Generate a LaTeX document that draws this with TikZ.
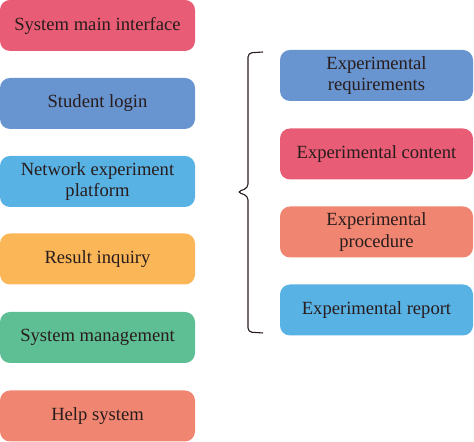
\documentclass[tikz,border=0pt]{standalone}
\usepackage{fontspec}
\setmainfont{Liberation Serif}

\definecolor{boxred}{RGB}{232,93,117}
\definecolor{boxblue}{RGB}{104,148,207}
\definecolor{boxsky}{RGB}{89,178,228}
\definecolor{boxorange}{RGB}{251,182,88}
\definecolor{boxgreen}{RGB}{94,190,148}
\definecolor{boxsalmon}{RGB}{240,134,113}
\definecolor{inktext}{RGB}{40,28,28}

\tikzset{
  menubox/.style={rectangle, rounded corners=5pt, fill=#1, draw=none,
    minimum width=97.5pt, minimum height=25.5pt, inner sep=0pt,
    align=center, text=inktext, font=\fontsize{9.3}{10.6}\selectfont},
  subbox/.style={menubox=#1, minimum width=96.5pt}
}

\begin{document}
\begin{tikzpicture}[x=0.5pt,y=0.5pt]
            \useasboundingbox (0,0) rectangle (474,442);

            % left column
            \node[menubox=boxred]    (main)   at (97.5,416.5) {System main interface};
            \node[menubox=boxblue]   (login)  at (97.5,338.5) {Student login};
            \node[menubox=boxsky]    (net)    at (97.5,260.5) {Network experiment\\platform};
            \node[menubox=boxorange] (result) at (97.5,183)   {Result inquiry};
            \node[menubox=boxgreen]  (manage) at (97.5,104.5) {System management};
            \node[menubox=boxsalmon] (help)   at (97.5,26)    {Help system};

            % right column
            \node[subbox=boxblue]   (req)  at (376.5,366.5) {Experimental\\requirements};
            \node[subbox=boxred]    (cont) at (376.5,288)   {Experimental content};
            \node[subbox=boxsalmon] (proc) at (376.5,210)   {Experimental\\procedure};
            \node[subbox=boxsky]    (rep)  at (376.5,132)   {Experimental report};

            % brace
            \coordinate (bracetop) at (263,390);
            \coordinate (bracebot) at (263,109);
            \coordinate (bracetip) at (237,250);
            \draw[inktext, line width=0.55pt, rounded corners=2pt]
              (bracetop) -- (248,389) -- (248,254) -- (bracetip)
              -- (248,246) -- (248,110) -- (bracebot);
        \end{tikzpicture}
\end{document}
